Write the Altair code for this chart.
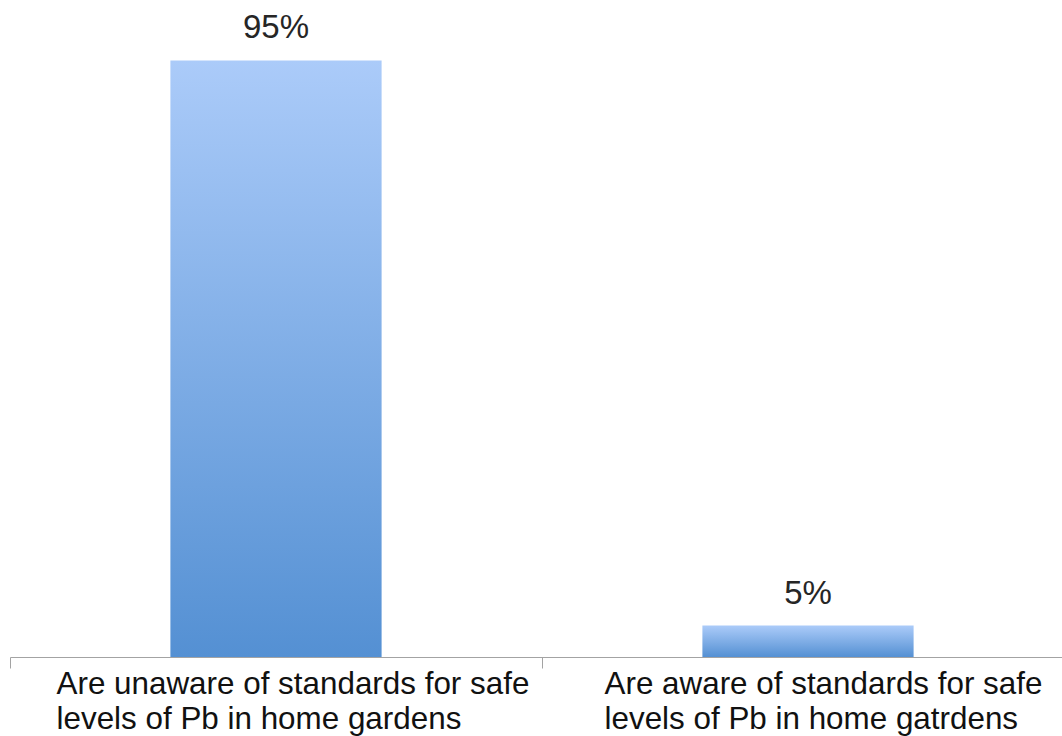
import altair as alt
import pandas as pd

# Survey result: share of respondents aware / unaware of safe Pb levels
categories = [
    "Are unaware of standards for safe|levels of Pb in home gardens",
    "Are aware of standards for safe|levels of Pb in home gatrdens",
]
shares = [95, 5]
label_shift = [-220, -204]  # left edge of each two-line label relative to its band centre

df = pd.DataFrame({"category": categories, "share": shares})

FONT = "Liberation Sans"

bar_fill = alt.Gradient(
    gradient="linear",
    x1=0, x2=0, y1=0, y2=1,
    stops=[
        alt.GradientStop(color="#abcbf9", offset=0),
        alt.GradientStop(color="#5490d3", offset=1),
    ],
)

x_enc = alt.X(
    "category:N",
    sort=categories,
    scale=alt.Scale(range=[0, 1064], paddingInner=0, paddingOuter=0),
    axis=alt.Axis(
        title=None,
        labelExpr="split(datum.label, '|')",
        labelAngle=0,
        labelAlign="left",
        labelBaseline="top",
        labelOffset=alt.condition(
            f"datum.value == '{categories[0]}'",
            alt.value(label_shift[0]),
            alt.value(label_shift[1]),
        ),
        labelFont=FONT,
        labelFontSize=31.4,
        labelLineHeight=35,
        labelColor="#111111",
        labelPadding=0,
        labelLimit=0,
        domainColor="#a3a3a3",
        tickColor="#a3a3a3",
        tickBand="extent",
        tickSize=11,
    ),
)

y_enc = alt.Y("share:Q", scale=alt.Scale(domain=[0, 100]), axis=None)

bars = alt.Chart(df).mark_bar(
    color=bar_fill, width=alt.RelativeBandSize(0.397)
).encode(x=x_enc, y=y_enc)

values = alt.Chart(df).transform_calculate(
    txt="format(datum.share, 'd') + '%'"
).mark_text(
    font=FONT, fontSize=33, color="#262626", baseline="alphabetic", dy=-22
).encode(x=x_enc, y=y_enc, text="txt:N")

chart = (
    alt.layer(bars, values)
    .properties(
        width=1052,
        height=628,
        autosize=alt.AutoSizeParams(type="none"),
        padding={"left": 10, "top": 29, "right": 0, "bottom": 79},
        background="white",
    )
    .configure_view(stroke=None)
)

chart.save("out.html", embed_options={"renderer": "svg", "actions": False})
